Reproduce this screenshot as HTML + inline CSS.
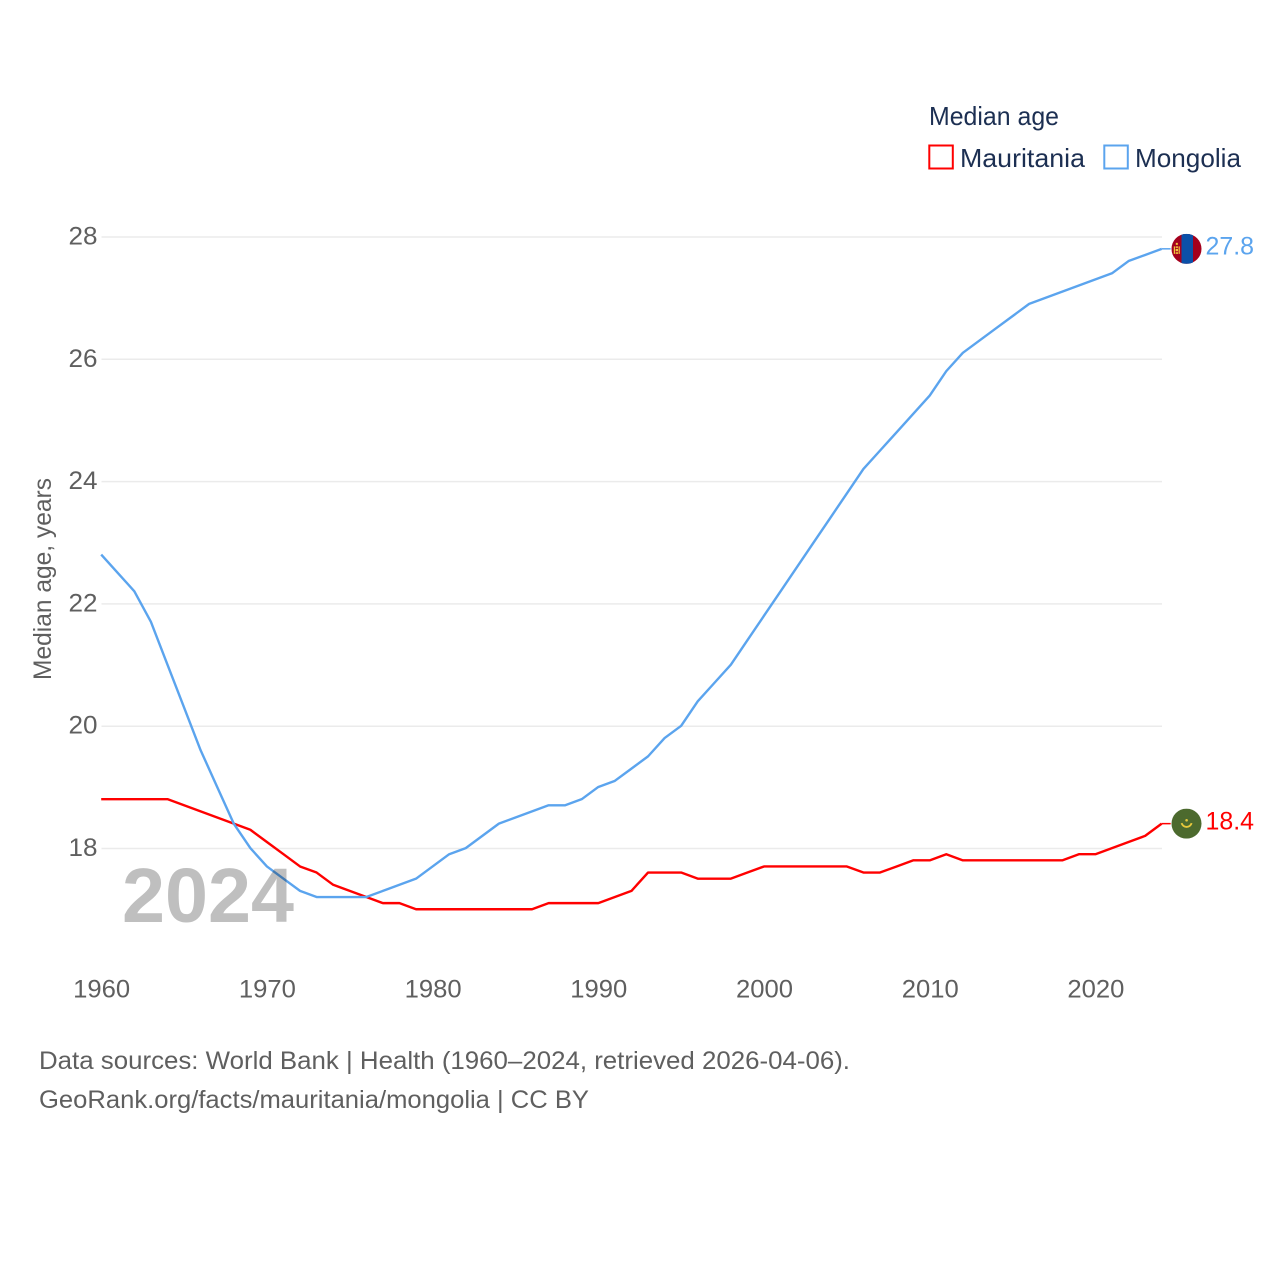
<!DOCTYPE html>
<html lang="en">
<head>
<meta charset="utf-8">
<title>Median age: Mauritania and Mongolia</title>
<style>
html,body{margin:0;padding:0;background:#fff;width:1280px;height:1280px;overflow:hidden}
svg{display:block}
text{font-family:"Liberation Sans",sans-serif}
.gray{fill:#5f5f5f;font-size:25px}
.navy{fill:#1c2f52;font-size:26px}
</style>
</head>
<body>
<svg id="chart" width="1280" height="1280" viewBox="0 0 1280 1280" xmlns="http://www.w3.org/2000/svg">
  <defs>
    <clipPath id="clip-mn"><circle id="clip-mn-c" cx="1186.5" cy="248" r="15"/></clipPath>
    <clipPath id="clip-mr"><circle id="clip-mr-c" cx="1186.5" cy="823" r="15"/></clipPath>
  </defs>
  <g id="grid"></g>
  <g id="yticks"></g>
  <g id="xticks"></g>
  <text class="gray" transform="translate(51,680) rotate(-90)" textLength="202" lengthAdjust="spacingAndGlyphs">Median age, years</text>
  <g id="series"></g>
  <text x="122" y="922" style="font-size:77px;font-weight:700;fill:#bfbfbf;mix-blend-mode:multiply" textLength="172" lengthAdjust="spacingAndGlyphs">2024</text>
  <g id="ends"></g>
  <g>
    <text class="navy" x="929" y="125" textLength="130" lengthAdjust="spacingAndGlyphs">Median age</text>
    <rect x="929.3" y="145.5" width="23.5" height="23" fill="none" stroke="#ff0000" stroke-width="2"/>
    <text class="navy" x="960" y="167" textLength="125" lengthAdjust="spacingAndGlyphs">Mauritania</text>
    <rect x="1104.3" y="145.5" width="23.5" height="23" fill="none" stroke="#5ba4ee" stroke-width="2"/>
    <text class="navy" x="1135" y="167" textLength="106" lengthAdjust="spacingAndGlyphs">Mongolia</text>
  </g>
  <text class="gray" x="39" y="1069" textLength="811" lengthAdjust="spacingAndGlyphs">Data sources: World Bank | Health (1960–2024, retrieved 2026-04-06).</text>
  <text class="gray" x="39" y="1108" textLength="550" lengthAdjust="spacingAndGlyphs">GeoRank.org/facts/mauritania/mongolia | CC BY</text>
</svg>
<script>
const startYear = 1960;
const yTickValues = [18, 20, 22, 24, 26, 28];
const xTickValues = [1960, 1970, 1980, 1990, 2000, 2010, 2020];
const mauritaniaValues = [18.8,18.8,18.8,18.8,18.8,18.7,18.6,18.5,18.4,18.3,18.1,17.9,17.7,17.6,17.4,17.3,17.2,17.1,17.1,17.0,17.0,17.0,17.0,17.0,17.0,17.0,17.0,17.1,17.1,17.1,17.1,17.2,17.3,17.6,17.6,17.6,17.5,17.5,17.5,17.6,17.7,17.7,17.7,17.7,17.7,17.7,17.6,17.6,17.7,17.8,17.8,17.9,17.8,17.8,17.8,17.8,17.8,17.8,17.8,17.9,17.9,18.0,18.1,18.2,18.4];
const mongoliaValues = [22.8,22.5,22.2,21.7,21.0,20.3,19.6,19.0,18.4,18.0,17.7,17.5,17.3,17.2,17.2,17.2,17.2,17.3,17.4,17.5,17.7,17.9,18.0,18.2,18.4,18.5,18.6,18.7,18.7,18.8,19.0,19.1,19.3,19.5,19.8,20.0,20.4,20.7,21.0,21.4,21.8,22.2,22.6,23.0,23.4,23.8,24.2,24.5,24.8,25.1,25.4,25.8,26.1,26.3,26.5,26.7,26.9,27.0,27.1,27.2,27.3,27.4,27.6,27.7,27.8];

const NS = 'http://www.w3.org/2000/svg';
const xOf = function (year) { return 101.2 + (year - 1960) * (1161.7 - 101.2) / 64; };
const yOf = function (v) { return 848.1 - (v - 18) * (848.1 - 236.6) / 10; };
const gridY = function (v) { return yOf(v) + 0.4; };
const mk = function (parent, tag) {
  const el = document.createElementNS(NS, tag);
  parent.appendChild(el);
  return el;
};

const grid = document.getElementById('grid');
const yticks = document.getElementById('yticks');
const xticks = document.getElementById('xticks');
const series = document.getElementById('series');
const ends = document.getElementById('ends');

yTickValues.forEach(function (v) {
  const line = mk(grid, 'line');
  
  
  line.setAttribute('x1', 101.5);
  line.setAttribute('x2', 1162);
  line.setAttribute('y1', gridY(v));
  line.setAttribute('y2', gridY(v));
  line.setAttribute('stroke', '#ebebeb');
  line.setAttribute('stroke-width', '1.5');
  const t = mk(yticks, 'text');
  
  
  t.setAttribute('class', 'gray');
  t.setAttribute('x', 68.5);
  t.setAttribute('y', gridY(v) + 7.5);
  t.setAttribute('textLength', '29');
  t.setAttribute('lengthAdjust', 'spacingAndGlyphs');
  t.textContent = String(v);
});

xTickValues.forEach(function (year) {
  const t = mk(xticks, 'text');
  
  
  t.setAttribute('class', 'gray');
  t.setAttribute('x', xOf(year) - 28);
  t.setAttribute('y', 997.5);
  t.setAttribute('textLength', '57');
  t.setAttribute('lengthAdjust', 'spacingAndGlyphs');
  t.textContent = String(year);
});

const drawSeries = function (values, color) {
  const last = values[values.length - 1];
  const lastX = xOf(startYear + values.length - 1);
  const pts = values.map(function (v, i) { return xOf(startYear + i).toFixed(2) + ',' + yOf(v).toFixed(2); });
  const line = mk(series, 'polyline');
  
  
  line.setAttribute('points', pts.join(' '));
  line.setAttribute('fill', 'none');
  line.setAttribute('stroke', color);
  line.setAttribute('stroke-width', '2.4');
  line.setAttribute('stroke-linejoin', 'round');
  const conn = mk(ends, 'line');
  
  
  conn.setAttribute('x1', lastX);
  conn.setAttribute('x2', lastX + 9);
  conn.setAttribute('y1', yOf(last));
  conn.setAttribute('y2', yOf(last));
  conn.setAttribute('stroke', color);
  conn.setAttribute('stroke-width', '1.5');
  return { last: last, cy: yOf(last) };
};

const mr = drawSeries(mauritaniaValues, '#ff0000');
const mn = drawSeries(mongoliaValues, '#5ba4ee');

const drawLabel = function (end, color) {
  const t = mk(ends, 'text');
  
  
  t.setAttribute('x', 1205.5);
  t.setAttribute('y', end.cy + 5.8);
  t.setAttribute('fill', color);
  t.setAttribute('font-size', '25');
  t.setAttribute('textLength', '48.5');
  t.setAttribute('lengthAdjust', 'spacingAndGlyphs');
  t.textContent = end.last.toFixed(1);
};
drawLabel(mn, '#5ba4ee');
drawLabel(mr, '#ff0000');

/* Flags follow the series end values */
const flagMn = mk(ends, 'g');


flagMn.setAttribute('clip-path', 'url(#clip-mn)');
document.getElementById('clip-mn-c').setAttribute('cy', mn.cy);
const my = mn.cy;
[[1171, 31, '#a4001d'], [1181.5, 11.5, '#0b50a8']].forEach(function (s) {
  const r = mk(flagMn, 'rect');
  
  
  r.setAttribute('x', s[0]);
  r.setAttribute('y', my - 15);
  r.setAttribute('width', s[1]);
  r.setAttribute('height', 30);
  r.setAttribute('fill', s[2]);
});
const soyombo = mk(flagMn, 'path');


soyombo.setAttribute('d', 'M1175.8 ' + (my - 6) + 'h2v2h-2z M1173.8 ' + (my - 2.5) + 'h1.2v7.5h-1.2z M1178.6 ' + (my - 2.5) + 'h1.2v7.5h-1.2z M1175.6 ' + (my - 2.5) + 'h2.4v1.5h-2.4z M1175.6 ' + (my) + 'h2.4v2.4h-2.4z M1175.6 ' + (my + 3.4) + 'h2.4v1.6h-2.4z');
soyombo.setAttribute('fill', '#f2c53d');

const flagMr = mk(ends, 'g');


flagMr.setAttribute('clip-path', 'url(#clip-mr)');
document.getElementById('clip-mr-c').setAttribute('cy', mr.cy);
const ry = mr.cy;
const bg = mk(flagMr, 'rect');


bg.setAttribute('x', 1171);
bg.setAttribute('y', ry - 15);
bg.setAttribute('width', 31);
bg.setAttribute('height', 30);
bg.setAttribute('fill', '#4c6a2e');
const crescent = mk(flagMr, 'path');


crescent.setAttribute('d', 'M1181.6 ' + (ry - 0.5) + 'a5.2 5.2 0 0 0 10 0');
crescent.setAttribute('fill', 'none');
crescent.setAttribute('stroke', '#e8c93c');
crescent.setAttribute('stroke-width', '1.9');
const star = mk(flagMr, 'circle');


star.setAttribute('cx', 1186.6);
star.setAttribute('cy', ry - 3.4);
star.setAttribute('r', 1.3);
star.setAttribute('fill', '#e8c93c');
</script>
</body>
</html>
